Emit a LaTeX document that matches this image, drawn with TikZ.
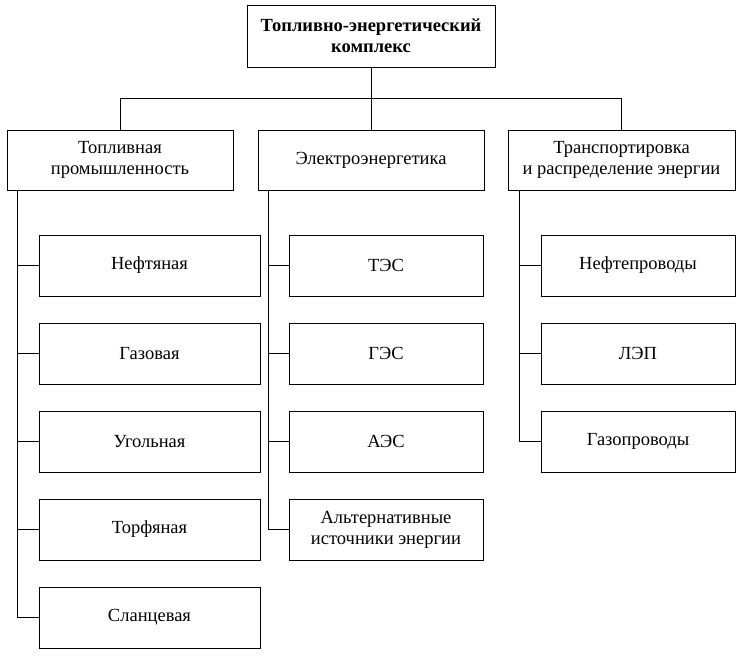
\documentclass[tikz,border=0pt]{standalone}
\usepackage{fontspec}
\setmainfont{Liberation Serif}
\begin{document}
\begin{tikzpicture}[x=1pt,y=-1pt,line width=0.8pt,
 bx/.style={draw,minimum height=61pt,align=center,font=\fontsize{18.5}{21}\selectfont,inner sep=0pt}]
\useasboundingbox (0,0) rectangle (742,656);
\node[bx,minimum width=248pt,minimum height=62pt,font=\fontsize{18.5}{21}\selectfont\bfseries] (top) at (371,36) {Топливно-энергетический\\комплекс};
\node[bx,minimum width=226pt,minimum height=60pt] (a) at (120,160) {Топливная\\промышленность};
\node[bx,minimum width=226pt,minimum height=60pt] (b) at (371,160) {Электроэнергетика};
\node[bx,minimum width=227pt,minimum height=60pt] (c) at (621.5,160) {Транспортировка\\и распределение энергии};
\coordinate (h) at (371,98);
\draw (top.south) -- (h);
\draw (a.north) |- (c.north |- h) -- (c.north);
\draw (h) -- (b.north);
\foreach \n/\t/\y in {a1/Нефтяная/265.5,a2/Газовая/353.5,a3/Угольная/441.5,a4/Торфяная/529.5,a5/Сланцевая/617.5}
 { \node[bx,minimum width=221pt] (\n) at (149.5,\y) {\t};
   \draw (17,\y) -- (\n.west); }
\draw (17,190) -- (17,617.5);
\foreach \n/\t/\y in {b1/ТЭС/265.5,b2/ГЭС/353.5,b3/АЭС/441.5,b4/{Альтернативные\\источники энергии}/529.5}
 { \node[bx,minimum width=194pt] (\n) at (386,\y) {\t};
   \draw (268,\y) -- (\n.west); }
\draw (268,190) -- (268,529.5);
\foreach \n/\t/\y in {c1/Нефтепроводы/265.5,c2/ЛЭП/353.5,c3/Газопроводы/441.5}
 { \node[bx,minimum width=194pt] (\n) at (638,\y) {\t};
   \draw (519,\y) -- (\n.west); }
\draw (519,190) -- (519,441.5);
\end{tikzpicture}
\end{document}
